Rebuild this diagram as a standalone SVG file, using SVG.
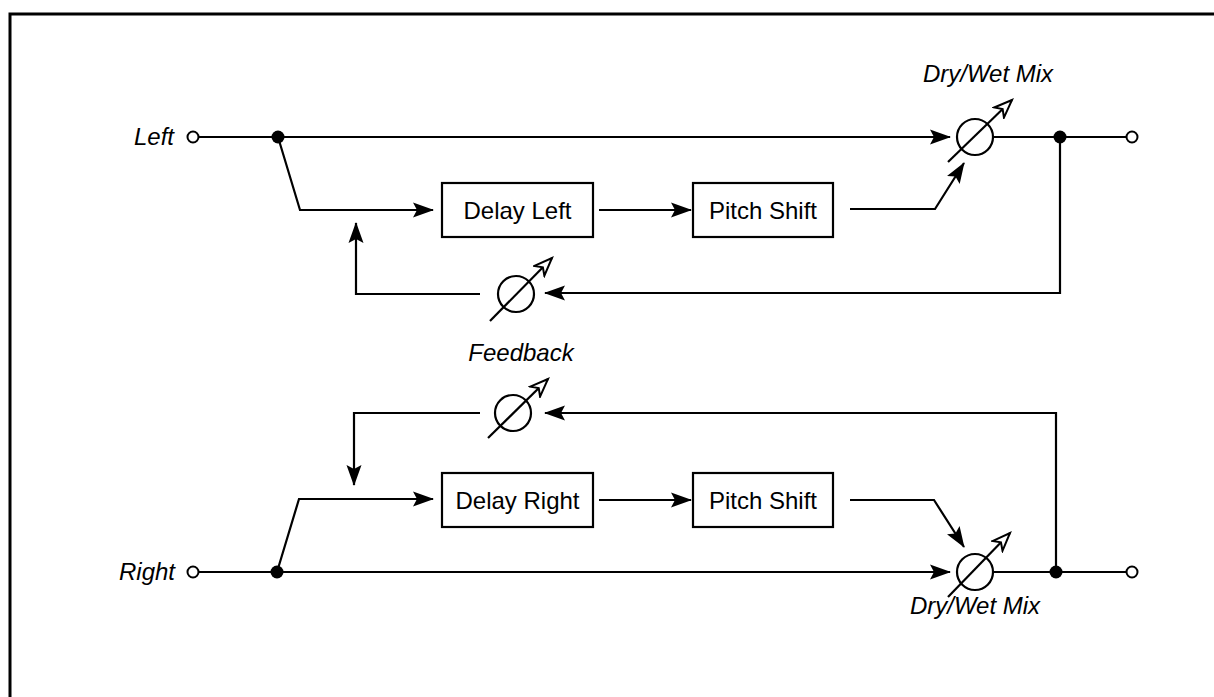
<svg xmlns="http://www.w3.org/2000/svg" width="1214" height="697" viewBox="0 0 1214 697">
<style>
.ln{fill:none;stroke:#000;stroke-width:2.2}
.box{fill:#fff;stroke:#000;stroke-width:2.2}
.ring{fill:none;stroke:#000;stroke-width:2.2}
.t{font-family:"Liberation Sans",Arial,sans-serif;font-size:24px;fill:#000}
.i{font-style:italic}
.dot{fill:#000}
.port{fill:#fff;stroke:#000;stroke-width:2}
</style>
<defs>
<marker id="ah" markerUnits="userSpaceOnUse" markerWidth="21" markerHeight="16" viewBox="0 0 21 16" refX="20" refY="8" orient="auto">
<path d="M0,0.5 L21,8 L0,15.5 L4,8 Z" fill="#000"/>
</marker>
<marker id="oh" markerUnits="userSpaceOnUse" markerWidth="22" markerHeight="17" viewBox="-1.5 -1.5 22 17" refX="18" refY="7" orient="auto">
<path d="M0,0 L18,7 L0,14 L5,7 Z" fill="#fff" stroke="#000" stroke-width="2" stroke-linejoin="miter"/>
</marker>
</defs>
<rect width="1214" height="697" fill="#fff"/>
<path d="M10,697 L10,14 L1214,14" fill="none" stroke="#000" stroke-width="3"/>

<g id="connectors">
<!-- Left channel -->
<path class="ln" d="M198,137 L278,137 L950,137" marker-end="url(#ah)"/>
<path class="ln" d="M278,137 L300,210 L433,210" marker-end="url(#ah)"/>
<path class="ln" d="M599,210 L691,210" marker-end="url(#ah)"/>
<path class="ln" d="M850,209 L935,209 L964,163" marker-end="url(#ah)"/>
<path class="ln" d="M993,137 L1126,137"/>
<path class="ln" d="M1060,137 L1060,293 L545,293" marker-end="url(#ah)"/>
<path class="ln" d="M480,294 L356,294 L356,223" marker-end="url(#ah)"/>
<!-- Right channel -->
<path class="ln" d="M198,572 L950,572" marker-end="url(#ah)"/>
<path class="ln" d="M277,572 L299,499 L433,499" marker-end="url(#ah)"/>
<path class="ln" d="M599,500 L691,500" marker-end="url(#ah)"/>
<path class="ln" d="M850,500 L934,500 L964,547" marker-end="url(#ah)"/>
<path class="ln" d="M993,572 L1126,572"/>
<path class="ln" d="M1056,572 L1056,413 L545,413" marker-end="url(#ah)"/>
<path class="ln" d="M480,413 L354,413 L354,485" marker-end="url(#ah)"/>
</g>

<g id="in-left">
<text class="t i" x="174" y="145" text-anchor="end">Left</text>
<circle class="port" cx="193" cy="137" r="5.5"/>
</g>
<g id="split-left"><circle class="dot" cx="278" cy="137" r="6.5"/></g>
<g id="delay-left">
<rect class="box" x="442" y="183" width="151" height="54"/>
<text class="t" x="517.5" y="218.5" text-anchor="middle">Delay Left</text>
</g>
<g id="pitch-left">
<rect class="box" x="693" y="183" width="140" height="54"/>
<text class="t" x="763" y="218.5" text-anchor="middle">Pitch Shift</text>
</g>
<g id="mix-left">
<circle class="ring" cx="975" cy="137" r="18"/>
<line class="ln" x1="948" y1="162" x2="1012" y2="100" marker-end="url(#oh)"/>
<text class="t i" x="988" y="82" text-anchor="middle">Dry/Wet Mix</text>
</g>
<g id="tap-left"><circle class="dot" cx="1060" cy="137" r="6.5"/></g>
<g id="out-left"><circle class="port" cx="1132" cy="137" r="5.5"/></g>
<g id="feedback-left">
<circle class="ring" cx="516" cy="294" r="18"/>
<line class="ln" x1="490" y1="321" x2="552" y2="258" marker-end="url(#oh)"/>
</g>
<g id="feedback-label">
<text class="t i" x="521" y="361" text-anchor="middle">Feedback</text>
</g>
<g id="feedback-right">
<circle class="ring" cx="513" cy="413" r="18"/>
<line class="ln" x1="488" y1="438" x2="548" y2="379" marker-end="url(#oh)"/>
</g>

<g id="in-right">
<text class="t i" x="175" y="580" text-anchor="end">Right</text>
<circle class="port" cx="193" cy="572" r="5.5"/>
</g>
<g id="split-right"><circle class="dot" cx="277" cy="572" r="6.5"/></g>
<g id="delay-right">
<rect class="box" x="442" y="473" width="151" height="54"/>
<text class="t" x="517.5" y="508.5" text-anchor="middle">Delay Right</text>
</g>
<g id="pitch-right">
<rect class="box" x="693" y="473" width="140" height="54"/>
<text class="t" x="763" y="508.5" text-anchor="middle">Pitch Shift</text>
</g>
<g id="mix-right">
<circle class="ring" cx="975" cy="572" r="18"/>
<line class="ln" x1="948" y1="597" x2="1010" y2="533" marker-end="url(#oh)"/>
<text class="t i" x="975" y="614" text-anchor="middle">Dry/Wet Mix</text>
</g>
<g id="tap-right"><circle class="dot" cx="1056" cy="572" r="6.5"/></g>
<g id="out-right"><circle class="port" cx="1132" cy="572" r="5.5"/></g>
</svg>
